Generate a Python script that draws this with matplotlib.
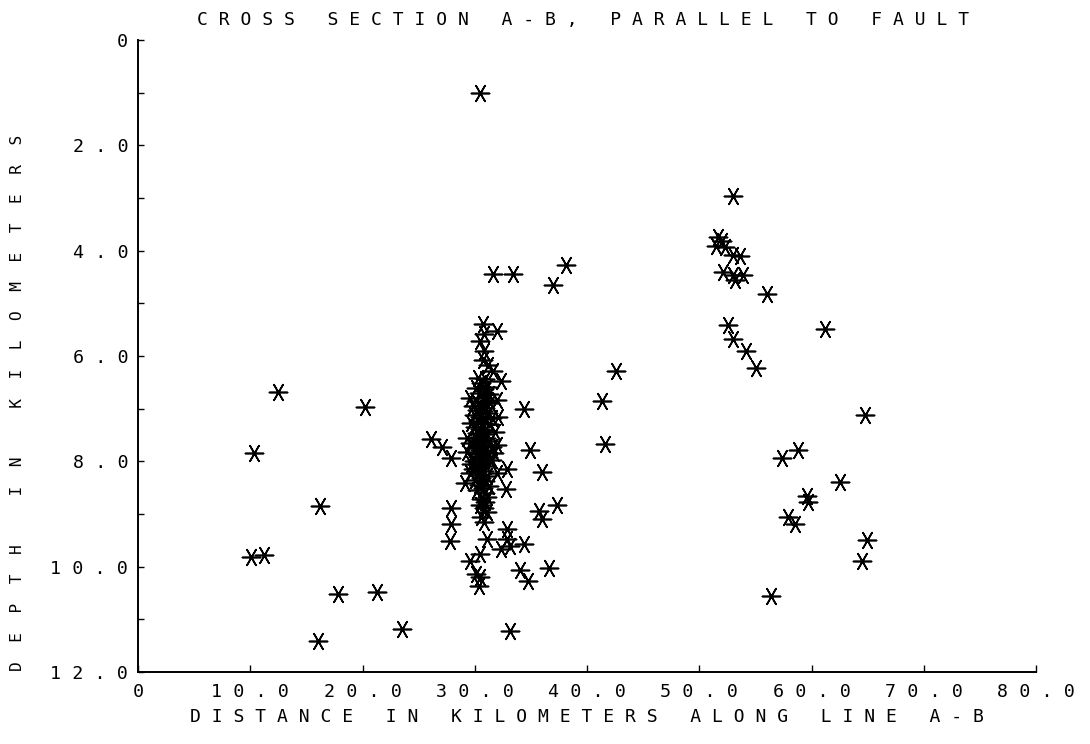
import matplotlib
matplotlib.use("Agg")
import matplotlib.pyplot as plt

# event locations: distance along A-B (km), depth (km)
west_dist = [12.5, 20.2, 10.3, 16.2, 10.1, 11.2, 17.8, 21.3, 16.0, 23.5,
             26.1, 27.1, 27.9, 27.9, 27.9, 27.8]
west_depth = [6.69, 6.97, 7.85, 8.85, 9.81, 9.78, 10.52, 10.48, 11.41, 11.18,
              7.57, 7.73, 7.94, 8.88, 9.19, 9.51]

# the tight column near 30 km
column_dist = [30.5, 30.7, 32.0, 30.8, 30.5, 30.8, 30.7, 31.2, 31.6, 32.3,
               30.3, 30.9, 30.6, 31.1, 30.1, 30.8, 30.4, 31.3, 29.6, 30.7,
               30.1, 31.0, 30.5, 32.0, 30.9, 29.8, 31.4,
               30.2, 30.7, 31.2, 29.9, 30.5, 32.1, 30.9, 30.3, 30.7, 31.3,
               30.0, 30.5, 30.9, 31.8, 30.2, 30.7, 29.7, 31.5,
               29.3, 30.4, 31.0, 30.1, 30.6, 31.4, 30.3, 32.0, 30.8, 31.5,
               30.0, 30.5, 29.3, 30.9, 30.2, 30.7, 31.2, 30.4, 31.5, 29.9,
               29.6, 31.7,
               30.6, 30.2, 31.0, 30.5, 29.8, 30.8, 29.6, 32.0, 30.3, 31.1,
               30.6, 30.0, 30.9, 29.1, 30.4, 31.3, 30.7, 30.2, 30.9, 29.7,
               31.1, 30.6, 30.9, 30.5, 30.8, 31.1, 30.6]
column_depth = [1.00, 5.40, 5.53, 5.59, 5.72, 5.91, 6.07, 6.18, 6.29, 6.48,
                6.42, 6.44, 6.52, 6.58, 6.60, 6.63, 6.70, 6.73, 6.79, 6.80,
                6.86, 6.88, 6.93, 6.83, 6.98, 6.95, 6.90,
                7.02, 7.05, 7.08, 7.12, 7.15, 7.15, 7.20, 7.24, 7.28, 7.30,
                7.34, 7.38, 7.41, 7.44, 7.47, 7.49, 7.27, 7.18,
                7.56, 7.53, 7.55, 7.60, 7.63, 7.62, 7.68, 7.69, 7.70, 7.72,
                7.75, 7.78, 7.82, 7.83, 7.86, 7.90, 7.92, 7.96, 7.98, 7.99,
                7.66, 7.85,
                8.02, 8.06, 8.08, 8.12, 8.15, 8.18, 8.22, 8.23, 8.25, 8.28,
                8.32, 8.36, 8.38, 8.42, 8.44, 8.47, 8.50, 8.55, 8.60, 8.05,
                8.67, 8.72, 8.78, 8.83, 8.88, 8.96, 9.05]

middle_dist = [34.4, 34.9, 32.9, 32.8, 36.0, 35.7, 36.0, 37.3, 30.8, 31.1,
               32.9, 32.9, 33.1, 32.3, 34.4, 30.5, 29.6, 30.1, 30.5, 30.4,
               34.0, 34.7, 36.6, 33.1,
               31.6, 33.4, 38.1, 37.0, 42.6, 41.3, 41.6]
middle_depth = [7.00, 7.79, 8.15, 8.53, 8.21, 8.94, 9.10, 8.82, 9.16, 9.48,
                9.29, 9.48, 9.61, 9.67, 9.57, 9.76, 9.89, 10.14, 10.19, 10.37,
                10.07, 10.27, 10.02, 11.22,
                4.44, 4.44, 4.27, 4.66, 6.29, 6.86, 7.68]

east_dist = [53.0, 51.7, 52.0, 51.5, 52.3, 53.0, 53.6, 52.1, 53.0, 53.9,
             53.2, 56.0, 52.6, 53.0, 61.2, 54.2, 55.1, 64.8, 58.8, 57.4,
             62.5, 59.6, 59.7, 57.9, 58.5, 64.9, 64.5, 56.4]
east_depth = [2.96, 3.74, 3.82, 3.92, 3.93, 4.08, 4.10, 4.41, 4.47, 4.47,
              4.56, 4.82, 5.42, 5.67, 5.48, 5.91, 6.22, 7.12, 7.79, 7.93,
              8.39, 8.66, 8.77, 9.05, 9.19, 9.49, 9.89, 10.55]

x_ticks = [0, 10, 20, 30, 40, 50, 60, 70, 80]
x_tick_labels = ["0", "10.0", "20.0", "30.0", "40.0", "50.0", "60.0", "70.0", "80.0"]
y_ticks = [0, 2, 4, 6, 8, 10, 12]
y_tick_labels = ["0", "2.0", "4.0", "6.0", "8.0", "10.0", "12.0"]
y_minor = [1, 3, 5, 7, 9, 11]

title = "CROSS SECTION A-B, PARALLEL TO FAULT"
xlabel = "DISTANCE IN KILOMETERS ALONG LINE A-B"
ylabel = "DEPTH IN KILOMETERS"


def spaced(s, gap=" "):
    # old plotter lettering: wide tracking
    return gap.join(s)


plt.rcParams['font.family'] = ['DejaVu Sans Mono', 'DejaVu Sans']
FS = 13.0
W, H = 1090, 744

fig = plt.figure(figsize=(W / 100, H / 100), dpi=100)
ax = fig.add_axes([138 / W, (H - 672) / H, (1036 - 138) / W, (672 - 40) / H])

dist = west_dist + column_dist + middle_dist + east_dist
depth = west_depth + column_depth + middle_depth + east_depth
ax.scatter(dist, depth, marker=(6, 2, 90), s=13 ** 2, c='black',
           linewidths=1.2, clip_on=False)

ax.set_xlim(0, 80)
ax.set_ylim(12, 0)
for side in ('top', 'right'):
    ax.spines[side].set_visible(False)
for side in ('left', 'bottom'):
    ax.spines[side].set_linewidth(1.4)

ax.set_xticks(x_ticks)
ax.set_xticklabels([spaced(t) for t in x_tick_labels], fontsize=13.2)
ax.set_yticks(y_ticks)
ax.set_yticklabels([spaced(t) for t in y_tick_labels], fontsize=13.2)
ax.set_yticks(y_minor, minor=True)
ax.tick_params(axis='x', direction='in', length=5, width=1, pad=8)
ax.tick_params(axis='y', which='both', direction='in', length=4, width=1, pad=7)

fig.text(583 / W, 1 - 20 / H, spaced(title), ha='center', va='center', fontsize=FS)
fig.text(587 / W, 1 - 717 / H, spaced(xlabel), ha='center', va='center', fontsize=FS)
fig.text(18 / W, 1 - 403 / H, spaced(ylabel, "  "), ha='center', va='center',
         rotation=90, fontsize=11.6)

fig.savefig("out.png", dpi=100)
